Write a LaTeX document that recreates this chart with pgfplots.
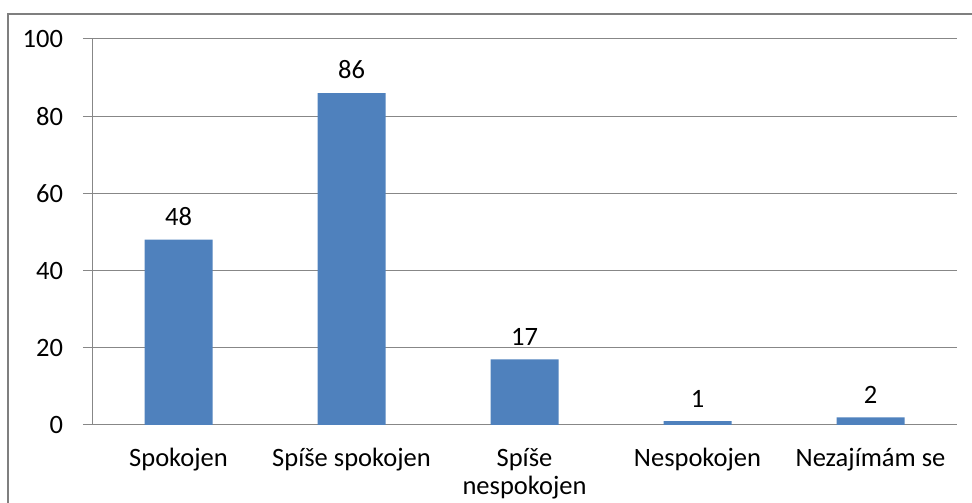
\documentclass[border=0pt]{standalone}
\usepackage{fontspec}
\setmainfont{Carlito}
\usepackage{pgfplots}
\pgfplotsset{compat=1.18}
\definecolor{barblue}{HTML}{4F81BD}
\definecolor{gridgray}{HTML}{878787}
\definecolor{framegray}{HTML}{7F7F7F}
\begin{document}
\fontsize{26.5}{29}\selectfont
\begin{tikzpicture}[x=1pt,y=1pt]
\useasboundingbox (0,0) rectangle (972,503);
\draw[framegray, line width=2.2pt] (8,-10) -- (8,489) -- (990,489);
\begin{axis}[
  at={(92pt,78pt)}, anchor=south west,
  width=865pt, height=386pt, scale only axis,
  xmin=-0.5, xmax=4.5, ymin=0, ymax=100,
  axis x line*=bottom, axis y line*=left,
  axis line style={gridgray, line width=1pt},
  ytick={0,20,...,100},
  ymajorgrids, grid style={gridgray, line width=1pt},
  tick align=outside,
  major tick length=9pt,
  tick style={gridgray, line width=1pt},
  xtick={0,1,2,3,4},
  xticklabels={Spokojen, Spíše spokojen, {Spíše\\nespokojen}, Nespokojen, Nezajímám se},
  x tick style={draw=none},
  extra x ticks={-0.5,0.5,1.5,2.5,3.5,4.5},
  extra x tick labels={},
  extra x tick style={major tick length=7pt, tick style={gridgray, line width=1pt}, grid=none},
  xticklabel style={align=center, font=\fontsize{26.5}{28}\selectfont, yshift=-5pt, text=black},
  yticklabel style={font=\fontsize{26.5}{29}\selectfont, text=black, xshift=-11pt},
  /pgf/number format/assume math mode=true,
  ybar, bar width=68pt,
  nodes near coords,
  nodes near coords style={font=\fontsize{26.5}{29}\selectfont, text=black, yshift=5pt},
  clip=false,
]
\addplot[fill=barblue, draw=none] coordinates {(0,48) (1,86) (2,17) (3,1) (4,2)};
\end{axis}
\end{tikzpicture}
\end{document}
